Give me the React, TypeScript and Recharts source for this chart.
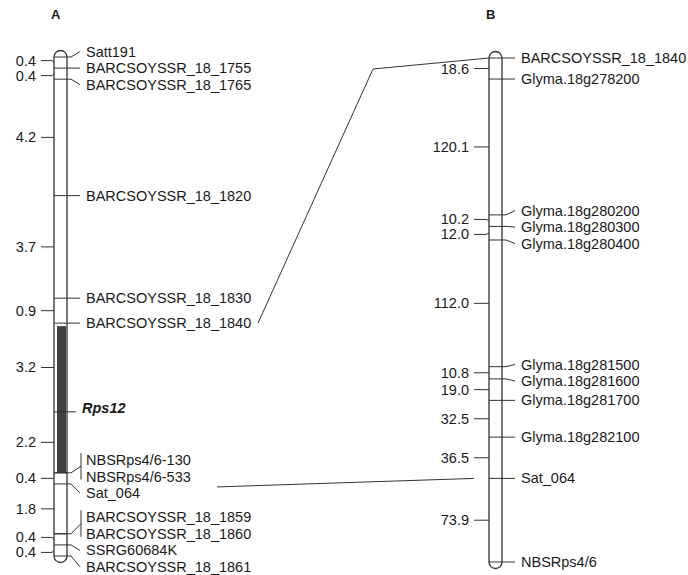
import React from 'react';
import { ComposedChart, Scatter, XAxis, YAxis, ReferenceArea } from 'recharts';

// ---------------- DATA ----------------
const mapAIntervals = [0.4, 0.4, 4.2, 3.7, 0.9, 3.2, 2.2, 0.4, 1.8, 0.4, 0.4];
const mapAMarkers = [
  'Satt191', 'BARCSOYSSR_18_1755', 'BARCSOYSSR_18_1765', 'BARCSOYSSR_18_1820',
  'BARCSOYSSR_18_1830', 'BARCSOYSSR_18_1840', 'Rps12', 'NBSRps4/6-130', 'NBSRps4/6-533',
  'Sat_064', 'BARCSOYSSR_18_1859', 'BARCSOYSSR_18_1860', 'SSRG60684K', 'BARCSOYSSR_18_1861',
];
const mapALocus = [0, 1, 2, 3, 4, 5, 6, 7, 7, 8, 9, 9, 10, 11];

const mapBIntervals = [18.6, 120.1, 10.2, 12.0, 112.0, 10.8, 19.0, 32.5, 36.5, 73.9];
const mapBMarkers = [
  'BARCSOYSSR_18_1840', 'Glyma.18g278200', 'Glyma.18g280200', 'Glyma.18g280300',
  'Glyma.18g280400', 'Glyma.18g281500', 'Glyma.18g281600', 'Glyma.18g281700',
  'Glyma.18g282100', 'Sat_064', 'NBSRps4/6',
];
const mapBLocus = [0, 1, 2, 3, 4, 5, 6, 7, 8, 9, 10];

const traitMarkers = ['Rps12'];
const linkedMarkers = ['BARCSOYSSR_18_1840', 'Sat_064'];
const mapTitles = ['A', 'B'];

// ---------------- LAYOUT ----------------
const W = 688;
const H = 575;
const FONT = 'Arial, "Liberation Sans", Helvetica, sans-serif';
const FS = 14.5;
const INK = '#1a1a1a';
const LINE = '#333';

const LA = { top: 57, bottom: 556, left: 54, right: 67, labelX: 86, tickRight: 36, tick1: 41, tick2: 52, darkL: 57, darkR: 66 };
const LB = { top: 58, bottom: 562, left: 489, right: 502, labelX: 521, tickRight: 469, tick1: 474, tick2: 486 };
const LABEL_GAP = 16.5;
const TICK_GAP = 15;
const CAP = 6.5;
const linkLayout: Record<string, { ax: number; ady: number; bendX?: number; bendDy?: number; bx: number }> = {
  BARCSOYSSR_18_1840: { ax: 258, ady: 0, bendX: 373, bendDy: 11, bx: LB.left },
  Sat_064: { ax: 217, ady: 3, bx: LB.tick1 },
};

// ---------------- HELPERS ----------------
const cum = (arr: number[]) =>
  arr.reduce((acc: number[], v) => { acc.push(+(acc[acc.length - 1] + v).toFixed(3)); return acc; }, [0]);

function spread(vals: number[], gap: number): number[] {
  type C = { n: number; sum: number; top: number };
  let cs: C[] = vals.map((v) => ({ n: 1, sum: v, top: v }));
  let changed = true;
  while (changed) {
    changed = false;
    for (let i = 0; i < cs.length - 1; i++) {
      const a = cs[i], b = cs[i + 1];
      if (a.top + a.n * gap > b.top + 1e-6) {
        const n = a.n + b.n, sum = a.sum + b.sum;
        cs.splice(i, 2, { n, sum, top: sum / n - ((n - 1) * gap) / 2 });
        changed = true;
        break;
      }
    }
  }
  const out: number[] = [];
  cs.forEach((c) => { for (let k = 0; k < c.n; k++) out.push(c.top + k * gap); });
  return out;
}

const aLoci = cum(mapAIntervals);
const bLoci = cum(mapBIntervals);
const aLen = aLoci[aLoci.length - 1];
const bLen = bLoci[bLoci.length - 1];
const kA = (LA.bottom - LA.top) / aLen;
const kB = (LB.bottom - LB.top) / bLen;
const domainA: [number, number] = [-LA.top / kA, (H - LA.top) / kA];
const domainB: [number, number] = [-LB.top / kB, (H - LB.top) / kB];
const pxA = (v: number) => LA.top + v * kA;
const pxB = (v: number) => LB.top + v * kB;

function buildMarkers(names: string[], locus: number[], loci: number[], px: (v: number) => number, L: any) {
  const mPx = locus.map((l) => px(loci[l]));
  const lPx = spread(mPx, LABEL_GAP);
  return names.map((name, i) => {
    let first = i;
    while (first > 0 && locus[first - 1] === locus[i]) first--;
    let last = i;
    while (last < names.length - 1 && locus[last + 1] === locus[i]) last++;
    return {
      x: (L.left + L.right) / 2,
      y: loci[locus[i]],
      name,
      dy: lPx[i] - mPx[i],
      groupFirst: i === first,
      groupSize: last - first + 1,
      firstDy: lPx[first] - mPx[i],
      lastDy: lPx[last] - mPx[i],
      labelPx: lPx[i],
      markerPx: mPx[i],
    };
  });
}

function buildTicks(intervals: number[], loci: number[], px: (v: number) => number, L: any) {
  const mids = intervals.map((_, i) => (loci[i] + loci[i + 1]) / 2);
  const mPx = mids.map(px);
  const lPx = spread(mPx, TICK_GAP);
  return intervals.map((v, i) => ({
    x: L.left,
    y: mids[i],
    label: v.toFixed(1),
    dy: lPx[i] - mPx[i],
  }));
}

const aMarkerData = buildMarkers(mapAMarkers, mapALocus, aLoci, pxA, LA);
const bMarkerData = buildMarkers(mapBMarkers, mapBLocus, bLoci, pxB, LB);
const aTickData = buildTicks(mapAIntervals, aLoci, pxA, LA);
const bTickData = buildTicks(mapBIntervals, bLoci, pxB, LB);
const aByName: Record<string, any> = {};
aMarkerData.forEach((d) => { aByName[d.name] = d; });

// ---------------- SHAPES ----------------
const makeMarkerShape = (L: any, isB: boolean) => (props: any) => {
  const { cy, payload } = props;
  if (cy == null || !payload) return <g />;
  const ly = cy + payload.dy;
  const trait = traitMarkers.includes(payload.name);
  const parts: React.ReactNode[] = [];
  parts.push(<line key="m" x1={L.left} x2={trait ? L.right + 9 : L.right} y1={cy} y2={cy} stroke={LINE} strokeWidth={1} />);
  if (trait) {
    parts.push(
      <text key="t" x={L.labelX - 4} y={ly - 4} fontSize={FS} fontFamily={FONT} fontWeight="bold" fontStyle="italic" fill={INK} dominantBaseline="central">
        {payload.name}
      </text>
    );
  } else {
    if (payload.groupSize > 1) {
      if (payload.groupFirst) {
        const bx = L.labelX - 5;
        const y1 = cy + payload.firstDy - 7;
        const y2 = cy + payload.lastDy + 3;
        parts.push(<line key="br" x1={bx} x2={bx} y1={y1} y2={y2} stroke={LINE} strokeWidth={1} />);
        parts.push(
          <polyline key="c" points={`${L.right},${cy} ${L.right + 4},${cy} ${bx},${(y1 + y2) / 2}`} fill="none" stroke={LINE} strokeWidth={1} />
        );
      }
    } else {
      parts.push(
        <polyline key="c" points={`${L.right},${cy} ${L.right + 4},${cy} ${L.labelX - 6},${ly}`} fill="none" stroke={LINE} strokeWidth={1} />
      );
    }
    parts.push(
      <text key="t" x={L.labelX} y={ly} fontSize={FS} fontFamily={FONT} fill={INK} dominantBaseline="central">
        {payload.name}
      </text>
    );
  }
  if (isB && linkedMarkers.includes(payload.name) && aByName[payload.name]) {
    const a = aByName[payload.name];
    const lk = linkLayout[payload.name];
    const ay = (lk.ady === 0 ? a.labelPx : a.markerPx + lk.ady);
    const pts = [`${lk.ax},${ay}`];
    if (lk.bendX != null) pts.push(`${lk.bendX},${cy + (lk.bendDy || 0)}`);
    pts.push(`${lk.bx},${cy}`);
    parts.push(<polyline key="lk" points={pts.join(' ')} fill="none" stroke={LINE} strokeWidth={1} />);
  }
  return <g>{parts}</g>;
};

const makeTickShape = (L: any) => (props: any) => {
  const { cy, payload } = props;
  if (cy == null || !payload) return <g />;
  const ly = cy + payload.dy;
  return (
    <g>
      <polyline points={`${L.tick1},${ly} ${L.tick2},${ly} ${L.left},${cy}`} fill="none" stroke={LINE} strokeWidth={1} />
      <text x={L.tickRight} y={ly} fontSize={FS} fontFamily={FONT} fill={INK} textAnchor="end" dominantBaseline="central">
        {payload.label}
      </text>
    </g>
  );
};

const chromShape = (props: any) => {
  const { x, y, width, height } = props;
  const top = Math.min(y, y + height) - CAP;
  const h = Math.abs(height) + CAP * 2;
  return <rect x={x} y={top} width={width} height={h} rx={CAP} ry={CAP} fill="#fff" stroke={LINE} strokeWidth={1.3} />;
};

const darkShape = (props: any) => {
  const { x, y, width, height } = props;
  const top = Math.min(y, y + height) + 3;
  const h = Math.abs(height) - 3;
  return <rect x={x} y={top} width={width} height={h} fill="#404040" stroke="none" />;
};

const markerShapeA = makeMarkerShape(LA, false);
const markerShapeB = makeMarkerShape(LB, true);
const tickShapeA = makeTickShape(LA);
const tickShapeB = makeTickShape(LB);

const darkStart = aLoci[mapALocus[mapAMarkers.indexOf('BARCSOYSSR_18_1840')]];
const darkEnd = aLoci[mapALocus[mapAMarkers.indexOf('NBSRps4/6-130')]];

export default function App() {
  return (
    <div style={{ position: 'absolute', left: 0, top: 0, width: W, height: H, background: '#fff', fontFamily: FONT }}>
      <ComposedChart width={W} height={H} margin={{ top: 0, right: 0, bottom: 0, left: 0 }}>
        <XAxis xAxisId={0} type="number" dataKey="x" domain={[0, W]} hide allowDataOverflow height={0} />
        <YAxis yAxisId="A" type="number" dataKey="y" domain={domainA} reversed hide width={0} allowDataOverflow />
        <YAxis yAxisId="B" type="number" dataKey="y" domain={domainB} reversed hide width={0} allowDataOverflow />
        <ReferenceArea yAxisId="A" x1={LA.left} x2={LA.right} y1={0} y2={aLen} shape={chromShape} ifOverflow="visible" />
        <ReferenceArea yAxisId="A" x1={LA.darkL} x2={LA.darkR} y1={darkStart} y2={darkEnd} shape={darkShape} ifOverflow="visible" />
        <ReferenceArea yAxisId="B" x1={LB.left} x2={LB.right} y1={0} y2={bLen} shape={chromShape} ifOverflow="visible" />
        <Scatter yAxisId="A" data={aTickData} shape={tickShapeA} isAnimationActive={false} />
        <Scatter yAxisId="B" data={bTickData} shape={tickShapeB} isAnimationActive={false} />
        <Scatter yAxisId="A" data={aMarkerData} shape={markerShapeA} isAnimationActive={false} />
        <Scatter yAxisId="B" data={bMarkerData} shape={markerShapeB} isAnimationActive={false} />
      </ComposedChart>
      <div style={{ position: 'absolute', left: 51, top: 7, fontWeight: 'bold', fontSize: 13, color: INK }}>{mapTitles[0]}</div>
      <div style={{ position: 'absolute', left: 486, top: 7, fontWeight: 'bold', fontSize: 13, color: INK }}>{mapTitles[1]}</div>
    </div>
  );
}
